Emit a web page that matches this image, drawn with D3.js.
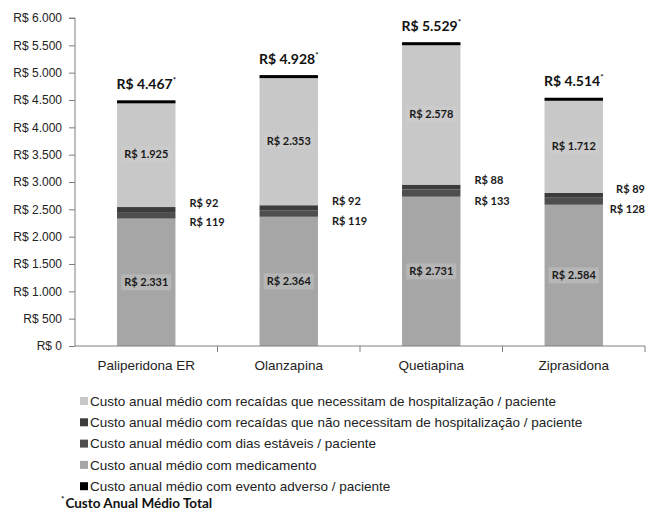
<!DOCTYPE html>
<html>
<head>
<meta charset="utf-8">
<script src="https://cdn.jsdelivr.net/npm/d3@7"></script>
<style>
  html, body { margin: 0; padding: 0; background: #fff; }
  svg { display: block; }
</style>
</head>
<body>
<svg id="chart" width="647" height="512"></svg>
<script>
// Annual cost per patient (R$), by antipsychotic
const categories = ["Paliperidona ER", "Olanzapina", "Quetiapina", "Ziprasidona"];
const medicamento = [2331, 2364, 2731, 2584];
const diasEstaveis = [119, 119, 133, 128];
const recaidasSemHosp = [92, 92, 88, 89];
const recaidasHosp = [1925, 2353, 2578, 1712];
const eventoAdverso = [0, 0, 0, 1];
const totals = [4467, 4928, 5529, 4514];
const yTicks = [0, 500, 1000, 1500, 2000, 2500, 3000, 3500, 4000, 4500, 5000, 5500, 6000];

const legendLabels = [
  "Custo anual médio com recaídas que necessitam de hospitalização / paciente",
  "Custo anual médio com recaídas que não necessitam de hospitalização / paciente",
  "Custo anual médio com dias estáveis / paciente",
  "Custo anual médio com medicamento",
  "Custo anual médio com evento adverso / paciente"
];
const footnote = "Custo Anual Médio Total";

const keys = ["medicamento", "diasEstaveis", "recaidasSemHosp", "recaidasHosp", "eventoAdverso"];
const colors = {
  medicamento: "#a6a6a6",
  diasEstaveis: "#4e4e4e",
  recaidasSemHosp: "#3c3c3c",
  recaidasHosp: "#c8c8c8",
  eventoAdverso: "#000000"
};
const legendOrder = ["recaidasHosp", "recaidasSemHosp", "diasEstaveis", "medicamento", "eventoAdverso"];

const rows = categories.map((c, i) => ({
  cat: c,
  medicamento: medicamento[i],
  diasEstaveis: diasEstaveis[i],
  recaidasSemHosp: recaidasSemHosp[i],
  recaidasHosp: recaidasHosp[i],
  eventoAdverso: eventoAdverso[i],
  total: totals[i]
}));

const fmt = v => "R$ " + d3.format(",")(v).replace(/,/g, ".");

const svg = d3.select("#chart");
const plotLeft = 75, plotRight = 645, plotTop = 18, plotBottom = 346;

const x = d3.scaleBand().domain(categories).range([plotLeft, plotRight]).paddingInner(0.59).paddingOuter(0.295);
const y = d3.scaleLinear().domain([0, 6000]).range([plotBottom, plotTop]);

const stack = d3.stack().keys(keys)(rows);

// stacked bars
const g = svg.append("g");
stack.forEach(layer => {
  g.selectAll(null).data(layer).join("rect")
    .attr("x", d => x(d.data.cat))
    .attr("width", x.bandwidth())
    .attr("y", d => layer.key === "eventoAdverso" ? y(d[1]) - 1.5 : y(d[1]))
    .attr("height", d => layer.key === "eventoAdverso" ? Math.max(3, y(d[0]) - y(d[1])) : y(d[0]) - y(d[1]))
    .attr("fill", colors[layer.key]);
});

// y axis
const yAxis = d3.axisLeft(y).tickValues(yTicks).tickSize(6).tickPadding(7).tickFormat(fmt);
const ya = svg.append("g").attr("transform", `translate(${plotLeft},0)`).call(yAxis);
ya.select(".domain").attr("stroke", "#7f7f7f").attr("d", `M-6,${plotTop}H0V${plotBottom}`);
ya.selectAll(".tick line").attr("stroke", "#7f7f7f");
ya.selectAll(".tick text").attr("fill", "#222").style("font-family", "'Liberation Sans', Arial, sans-serif").style("font-size", "12px");

// x axis
const xa = svg.append("g").attr("transform", `translate(0,${plotBottom})`);
xa.append("line").attr("x1", plotLeft).attr("x2", plotRight).attr("y1", 0).attr("y2", 0).attr("stroke", "#7f7f7f");
const bounds = categories.map(c => x(c) + x.bandwidth() / 2 + x.step() / 2);
xa.selectAll(null).data(bounds).join("line")
  .attr("x1", d => d).attr("x2", d => d).attr("y1", 0).attr("y2", 6).attr("stroke", "#7f7f7f");
xa.selectAll(null).data(categories).join("text")
  .attr("x", d => x(d) + x.bandwidth() / 2)
  .attr("y", 24)
  .attr("text-anchor", "middle")
  .attr("fill", "#222")
  .style("font-family", "'Liberation Sans', Arial, sans-serif")
  .style("font-size", "13.5px")
  .text(d => d);

const boldFont = "Lato, 'Open Sans', sans-serif";

// labels inside the large segments
[["medicamento", 0], ["recaidasHosp", 3]].forEach(([key, idx]) => {
  const layer = stack[idx];
  const lg = svg.append("g").selectAll("g").data(layer).join("g")
    .attr("transform", d => `translate(${x(d.data.cat) + x.bandwidth() / 2},${(y(d[0]) + y(d[1])) / 2})`);
  lg.append("rect")
    .attr("x", -25).attr("y", -8).attr("width", 50).attr("height", 16)
    .attr("fill", key === "medicamento" ? "#b6b6b6" : "#cbcbcb");
  lg.append("text")
    .attr("text-anchor", "middle")
    .attr("dy", "0.35em")
    .attr("fill", "#1a1a1a")
    .style("font-family", boldFont)
    .style("font-weight", "bold")
    .style("font-size", "11px")
    .text(d => fmt(d[1] - d[0]));
});

// side labels for the thin dark segments
function sideLabel(xPos, yPos, txt) {
  const t = svg.append("text")
    .attr("x", xPos).attr("y", yPos).attr("dy", "0.35em")
    .attr("fill", "#1a1a1a")
    .style("font-family", boldFont).style("font-weight", "bold").style("font-size", "11px")
    .text(txt);
  const w = t.node().getComputedTextLength();
  if (xPos + w > 645) t.attr("x", 645 - w);
}
rows.forEach((r, i) => {
  const xs = x(r.cat) + x.bandwidth() + 14;
  const sem = stack[2][i], dias = stack[1][i];
  sideLabel(xs, y(sem[1]) - 4, fmt(r.recaidasSemHosp));
  sideLabel(xs, y(dias[0]) + 4, fmt(r.diasEstaveis));
});

// total labels above the bars
const tl = svg.append("g").selectAll("text").data(rows).join("text")
  .attr("x", d => x(d.cat) + x.bandwidth() / 2)
  .attr("y", d => y(d.total) - 13)
  .attr("text-anchor", "middle")
  .attr("fill", "#111")
  .style("font-family", boldFont)
  .style("font-weight", "bold")
  .style("font-size", "14px");
tl.append("tspan").text(d => fmt(d.total));
tl.append("tspan").attr("dy", -6).style("font-size", "8px").text("*");

// legend
const leg = svg.append("g");
legendOrder.forEach((k, i) => {
  const yy = 401 + i * 21.3;
  leg.append("rect").attr("x", 80).attr("y", yy - 4).attr("width", 8).attr("height", 8).attr("fill", colors[k]);
  leg.append("text")
    .attr("x", 90).attr("y", yy).attr("dy", "0.35em")
    .attr("fill", "#222")
    .style("font-family", "'Liberation Sans', Arial, sans-serif")
    .style("font-size", "13.5px")
    .text(legendLabels[i]);
});
const fn = svg.append("text").attr("x", 61).attr("y", 508)
  .attr("fill", "#111")
  .style("font-family", boldFont).style("font-weight", "bold").style("font-size", "13.5px");
fn.append("tspan").attr("dy", -6).style("font-size", "8px").text("*");
fn.append("tspan").attr("dy", 6).attr("dx", 1).text(footnote);
</script>
</body>
</html>
